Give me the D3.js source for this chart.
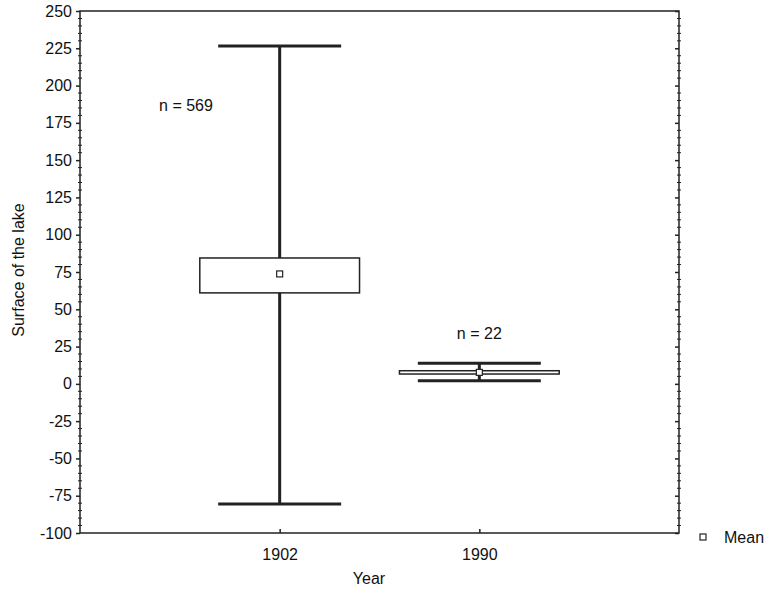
<!DOCTYPE html>
<html>
<head>
<meta charset="utf-8">
<script src="https://cdn.jsdelivr.net/npm/d3@7"></script>
<style>
  body { margin: 0; background: #fff; }
  text { font-family: "Liberation Sans", Arial, sans-serif; fill: #111; }
</style>
</head>
<body>
<svg id="chart" width="768" height="592"></svg>
<script>
// Box plot data
const years = ["1902", "1990"];
const whiskerLow = [-80.5, 2];
const whiskerHigh = [226.5, 13.8];
const boxLow = [61, 6.6];
const boxHigh = [84.4, 8.8];
const means = [73.7, 7.7];
const counts = [569, 22];
const yTicks = [-100, -75, -50, -25, 0, 25, 50, 75, 100, 125, 150, 175, 200, 225, 250];

const svg = d3.select("#chart");
const margin = { top: 11, right: 89, bottom: 59, left: 80 };
const width = 768, height = 592;
const x0 = margin.left, x1 = width - margin.right;
const y0 = height - margin.bottom, y1 = margin.top;
const fs = 16;
const font = "Liberation Sans, Arial, sans-serif";

const x = d3.scalePoint().domain(years).range([x0, x1]).padding(1);
const y = d3.scaleLinear().domain([-100, 250]).range([y0, y1]);
const step = x.step();

const ink = "#222";

// Minor ticks every 5 units on both vertical axes
const minor = d3.range(-100, 251, 5).filter(v => v % 25 !== 0);
const g = svg.append("g");
g.selectAll(".minL").data(minor).enter().append("line")
  .attr("x1", x0 - 2).attr("x2", x0 + 2)
  .attr("y1", d => y(d)).attr("y2", d => y(d))
  .attr("stroke", ink).attr("stroke-width", 1);
g.selectAll(".minR").data(minor).enter().append("line")
  .attr("x1", x1 - 2).attr("x2", x1 + 2)
  .attr("y1", d => y(d)).attr("y2", d => y(d))
  .attr("stroke", ink).attr("stroke-width", 1);

// Left axis with major ticks pointing out
const left = svg.append("g")
  .attr("transform", `translate(${x0},0)`)
  .call(d3.axisLeft(y).tickValues(yTicks).tickSize(4).tickPadding(4).tickFormat(d => String(d)));
left.select(".domain").remove();
left.selectAll("line").attr("stroke", ink).attr("stroke-width", 1.5);
left.selectAll("text").attr("font-size", fs).style("font-family", font).attr("fill", "#111");

// Right axis: inward major ticks, no labels
const right = svg.append("g")
  .attr("transform", `translate(${x1},0)`)
  .call(d3.axisRight(y).tickValues(yTicks).tickSize(-4).tickFormat(""));
right.select(".domain").remove();
right.selectAll("line").attr("stroke", ink).attr("stroke-width", 1.5);

// Bottom axis with inward ticks
const bottom = svg.append("g")
  .attr("transform", `translate(0,${y0})`)
  .call(d3.axisBottom(x).tickSize(-4).tickPadding(16));
bottom.select(".domain").remove();
bottom.selectAll("line").attr("stroke", ink).attr("stroke-width", 1.5);
bottom.selectAll("text").attr("font-size", fs).style("font-family", font).attr("fill", "#111");

// Frame
svg.append("rect")
  .attr("x", x0).attr("y", y1)
  .attr("width", x1 - x0).attr("height", y0 - y1)
  .attr("fill", "none").attr("stroke", ink).attr("stroke-width", 1.5);

// Boxes
const data = years.map((yr, i) => ({
  yr, lo: whiskerLow[i], hi: whiskerHigh[i], q1: boxLow[i], q3: boxHigh[i], mean: means[i], n: counts[i]
}));
const boxHalf = step * 0.4;
const capHalf = step * 0.308;

const boxes = svg.selectAll(".box").data(data).enter().append("g").attr("class", "box");

boxes.append("line")
  .attr("x1", d => x(d.yr)).attr("x2", d => x(d.yr))
  .attr("y1", d => y(d.hi)).attr("y2", d => y(d.lo))
  .attr("stroke", ink).attr("stroke-width", 3);
boxes.append("line")
  .attr("x1", d => x(d.yr) - capHalf).attr("x2", d => x(d.yr) + capHalf)
  .attr("y1", d => y(d.hi)).attr("y2", d => y(d.hi))
  .attr("stroke", ink).attr("stroke-width", 3);
boxes.append("line")
  .attr("x1", d => x(d.yr) - capHalf).attr("x2", d => x(d.yr) + capHalf)
  .attr("y1", d => y(d.lo)).attr("y2", d => y(d.lo))
  .attr("stroke", ink).attr("stroke-width", 3);
boxes.append("rect")
  .attr("x", d => x(d.yr) - boxHalf).attr("width", boxHalf * 2)
  .attr("y", d => y(d.q3)).attr("height", d => y(d.q1) - y(d.q3))
  .attr("fill", "#fff").attr("stroke", ink).attr("stroke-width", 1.5);
boxes.append("rect")
  .attr("x", d => x(d.yr) - 3).attr("y", d => y(d.mean) - 3)
  .attr("width", 6).attr("height", 6)
  .attr("fill", "#fff").attr("stroke", ink).attr("stroke-width", 1.2);

// n labels
svg.append("text").attr("x", 186).attr("y", 111).attr("text-anchor", "middle")
  .attr("font-size", fs).text(`n = ${counts[0]}`);
svg.append("text").attr("x", x("1990")).attr("y", 339).attr("text-anchor", "middle")
  .attr("font-size", fs).text(`n = ${counts[1]}`);

// Axis titles
svg.append("text").attr("x", 369).attr("y", 584).attr("text-anchor", "middle")
  .attr("font-size", fs).text("Year");
svg.append("text").attr("transform", `translate(24,270) rotate(-90)`)
  .attr("text-anchor", "middle").attr("font-size", fs).text("Surface of the lake");

// Legend
svg.append("rect").attr("x", 700).attr("y", 534).attr("width", 6).attr("height", 6)
  .attr("fill", "#fff").attr("stroke", ink).attr("stroke-width", 1.2);
svg.append("text").attr("x", 724).attr("y", 543).attr("font-size", fs).text("Mean");
</script>
</body>
</html>
